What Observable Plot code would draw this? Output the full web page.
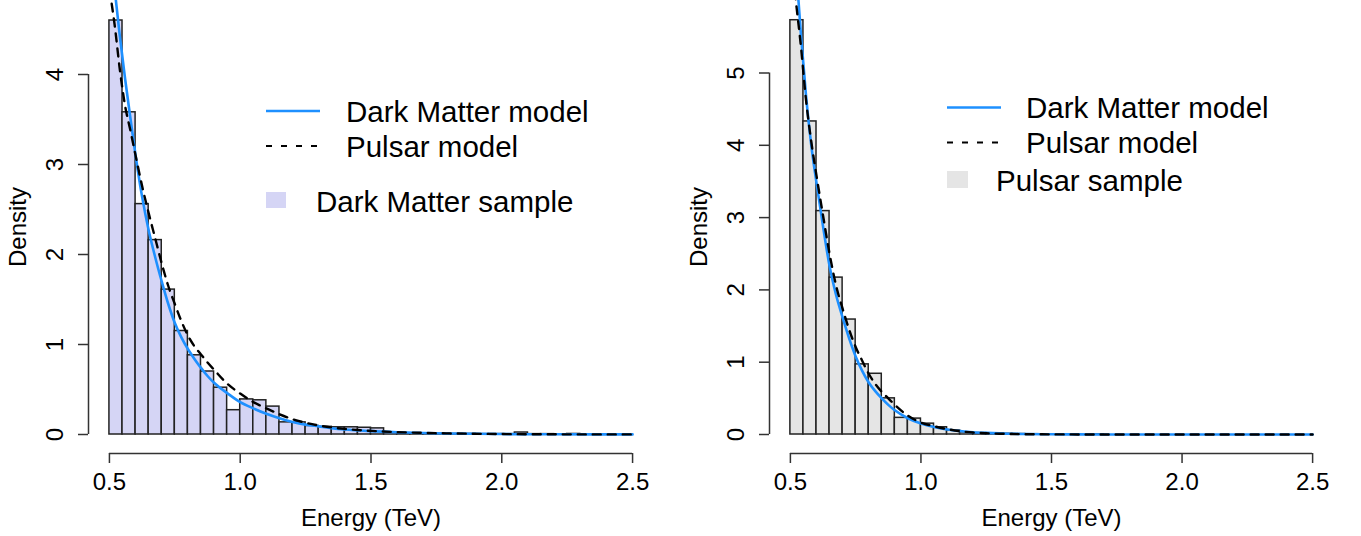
<!DOCTYPE html>
<html><head><meta charset="utf-8">
<script src="https://cdn.jsdelivr.net/npm/d3@7"></script>
<script src="https://cdn.jsdelivr.net/npm/@observablehq/plot@0.6"></script>
<style>
html,body{margin:0;padding:0;background:#fff;}
#wrap{position:relative;width:1361px;height:536px;display:flex;overflow:hidden;}
#legend{position:absolute;left:0;top:0;pointer-events:none;}
</style></head><body>
<div id="wrap"></div>
<script>
// ---- data ----
const binEdges = [0.50,0.55,0.60,0.65,0.70,0.75,0.80,0.85,0.90,0.95,1.00,1.05,1.10,1.15,1.20,1.25,1.30,1.35,1.40,1.45,1.50,1.55,1.60,1.65,1.70,1.75,1.80,1.85,1.90,1.95,2.00,2.05,2.10,2.15,2.20,2.25,2.30,2.35,2.40,2.45,2.50];
const dmSample = [4.60,3.58,2.56,2.16,1.61,1.15,0.88,0.70,0.52,0.27,0.39,0.38,0.31,0.135,0.135,0.095,0.085,0.08,0.08,0.075,0.068,0.022,0.015,0.011,0.01,0.008,0.006,0.006,0.004,0.004,0.004,0.022,0.004,0.004,0.002,0.006,0.002,0,0,0];
const pulsarSample = [5.73,4.33,3.09,2.17,1.59,0.97,0.84,0.50,0.23,0.22,0.15,0.10,0.055,0.03,0.02,0.012,0.01,0.006,0.004,0.003,0.002,0.002,0,0.001,0,0,0,0,0,0,0,0,0,0,0,0,0,0,0,0];

const curveX = [0.50,0.52,0.54,0.56,0.58,0.60,0.625,0.65,0.675,0.70,0.725,0.75,0.775,0.80,0.825,0.85,0.875,0.90,0.95,1.00,1.05,1.10,1.15,1.20,1.25,1.30,1.35,1.40,1.50,1.60,1.70,1.80,2.00,2.20,2.50];
const dmModelLeft = [5.50,4.95,4.42,3.95,3.52,3.10,2.64,2.27,1.97,1.70,1.45,1.24,1.08,0.95,0.84,0.74,0.65,0.575,0.46,0.36,0.29,0.23,0.18,0.14,0.11,0.09,0.07,0.055,0.037,0.025,0.016,0.011,0.005,0.002,0.001];
const pulsarModelLeft = [4.95,4.55,4.05,3.65,3.38,3.10,2.76,2.46,2.18,1.90,1.65,1.45,1.26,1.10,0.98,0.89,0.80,0.72,0.565,0.455,0.36,0.29,0.225,0.17,0.13,0.10,0.078,0.062,0.04,0.027,0.018,0.012,0.005,0.002,0.001];
const dmModelRight = [7.70,6.55,5.55,4.68,4.00,3.48,2.88,2.33,1.93,1.62,1.33,1.08,0.88,0.72,0.60,0.50,0.41,0.335,0.225,0.152,0.103,0.07,0.048,0.032,0.022,0.015,0.01,0.007,0.003,0.0014,0.0006,0.0003,0.0001,0,0];
const pulsarModelRight = [6.75,6.03,5.38,4.62,4.05,3.58,3.03,2.50,2.06,1.74,1.45,1.21,1.02,0.84,0.70,0.59,0.50,0.41,0.26,0.165,0.115,0.075,0.045,0.027,0.017,0.011,0.007,0.0045,0.002,0.001,0.0005,0.0002,0,0,0];

const xTicks = [0.5,1.0,1.5,2.0,2.5];
const yTicksLeft = [0,1,2,3,4];
const yTicksRight = [0,1,2,3,4,5];
const xLabel = "Energy (TeV)";
const yLabel = "Density";
const seriesNames = ["Dark Matter model","Pulsar model","Dark Matter sample","Pulsar sample"];

// ---- styles ----
const FONT = "'Liberation Sans', Arial, Helvetica, sans-serif";
const BLUE = "#1E90FF";
const DASH = "8,7";

function panel({sample, fill, dm, ps, yDomain, yTicks, width, marginLeft, marginRight}) {
  const bars = sample.map((d, i) => ({x1: binEdges[i], x2: binEdges[i+1], d}));
  const curve = curveX.map((x, i) => ({x, dm: dm[i], ps: ps[i]}));
  const xDomain = [0.42, 2.58];
  return Plot.plot({
    width, height: 536,
    marginLeft, marginRight, marginTop: 0, marginBottom: 83,
    style: {fontFamily: FONT, fontSize: "24px", background: "#fff", color: "#000", overflow: "visible"},
    x: {domain: xDomain},
    y: {domain: yDomain},
    marks: [
      Plot.rect(bars, {x1: "x1", x2: "x2", y1: 0, y2: "d", fill, stroke: "#222", strokeWidth: 1.5}),
      Plot.line(curve, {x: "x", y: "dm", stroke: BLUE, strokeWidth: 2.6, curve: "monotone-x", clip: true}),
      Plot.line(curve, {x: "x", y: "ps", stroke: "#000", strokeWidth: 2.4, strokeDasharray: DASH, curve: "monotone-x", clip: true}),
      // x axis
      Plot.ruleY([yDomain[0]], {x1: d3.min(xTicks), x2: d3.max(xTicks), stroke: "#333", strokeWidth: 1.5}),
      Plot.axisX({ticks: xTicks, tickSize: 10, tickPadding: 9, tickFormat: d3.format(".1f"), fontSize: 24, label: null, stroke: "#333", strokeWidth: 1.5}),
      Plot.text([xLabel], {frameAnchor: "bottom", lineAnchor: "middle", textAnchor: "middle", dy: 65, fontSize: 24}),
      // y axis
      Plot.ruleX([xDomain[0]], {y1: d3.min(yTicks), y2: d3.max(yTicks), stroke: "#333", strokeWidth: 1.5}),
      Plot.axisY({ticks: yTicks, tickSize: 10, tickFormat: () => "", label: null, stroke: "#333", strokeWidth: 1.5}),
      Plot.text(yTicks, {y: d => d, text: d => String(d), frameAnchor: "left", textAnchor: "middle", lineAnchor: "middle", dx: -33, rotate: -90, fontSize: 24}),
      Plot.text([yLabel], {frameAnchor: "left", textAnchor: "middle", lineAnchor: "middle", dx: -70, rotate: -90, fontSize: 24})
    ]
  });
}

const wrap = document.getElementById("wrap");
wrap.appendChild(panel({
  sample: dmSample, fill: "#D5D5F5", dm: dmModelLeft, ps: pulsarModelLeft,
  yDomain: [-19/90, 434/90], yTicks: yTicksLeft, width: 680, marginLeft: 88, marginRight: 27
}));
wrap.appendChild(panel({
  sample: pulsarSample, fill: "#E5E5E5", dm: dmModelRight, ps: pulsarModelRight,
  yDomain: [-19/72.3, 434/72.3], yTicks: yTicksRight, width: 681, marginLeft: 89, marginRight: 28
}));

// ---- legends (overlaid, inside each panel) ----
const legends = [
  {lineX: 266, textX: 346, rows: [111, 146], boxX: 266, boxY: 192, boxW: 20, boxH: 16, boxText: 316, boxRow: 201, fill: "#D5D5F5", sample: seriesNames[2]},
  {lineX: 947, textX: 1026, rows: [107.5, 142.5], boxX: 947, boxY: 171, boxW: 21, boxH: 17, boxText: 996, boxRow: 180, fill: "#E5E5E5", sample: seriesNames[3]}
];
const svg = d3.select(wrap).append("svg").attr("id", "legend").attr("width", 1361).attr("height", 536)
  .style("font-family", FONT);
for (const L of legends) {
  const g = svg.append("g");
  g.append("line").attr("x1", L.lineX).attr("x2", L.lineX + 54).attr("y1", L.rows[0]).attr("y2", L.rows[0])
    .attr("stroke", BLUE).attr("stroke-width", 2.6);
  g.append("text").attr("x", L.textX).attr("y", L.rows[0] + 10.5).attr("font-size", 29.5).text(seriesNames[0]);
  g.append("line").attr("x1", L.lineX).attr("x2", L.lineX + 54).attr("y1", L.rows[1]).attr("y2", L.rows[1])
    .attr("stroke", "#000").attr("stroke-width", 2.2).attr("stroke-dasharray", "6,9");
  g.append("text").attr("x", L.textX).attr("y", L.rows[1] + 10.5).attr("font-size", 29.5).text(seriesNames[1]);
  g.append("rect").attr("x", L.boxX).attr("y", L.boxY).attr("width", L.boxW).attr("height", L.boxH).attr("fill", L.fill);
  g.append("text").attr("x", L.boxText).attr("y", L.boxRow + 10.5).attr("font-size", 29.5).text(L.sample);
}
</script>
</body></html>
